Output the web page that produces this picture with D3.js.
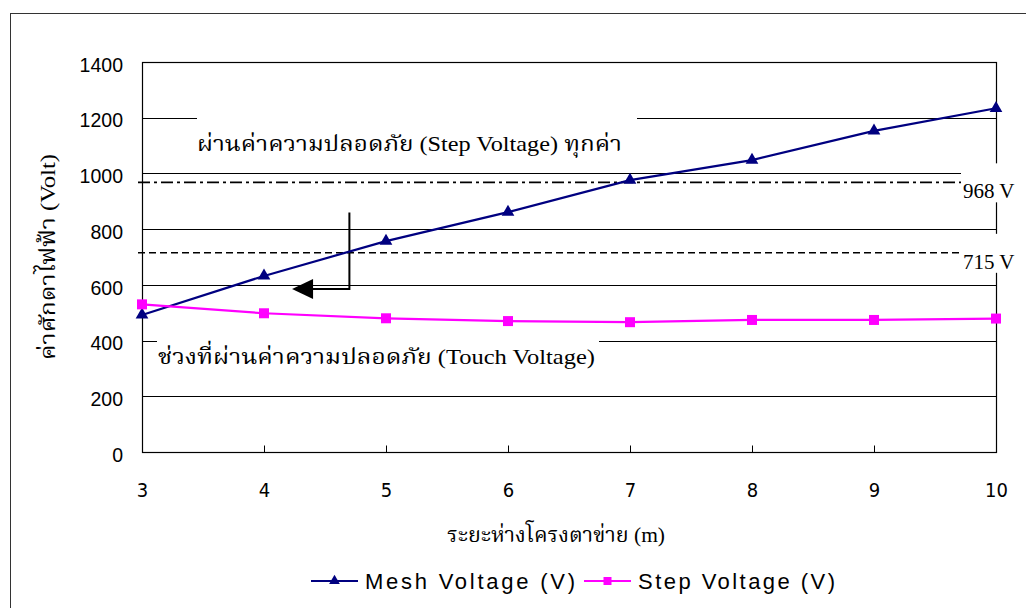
<!DOCTYPE html>
<html>
<head>
<meta charset="utf-8">
<script src="https://cdn.jsdelivr.net/npm/d3@7"></script>
<style>
  html, body { margin: 0; padding: 0; background: #fff; }
  svg { display: block; }
  .thai { font-family: "Liberation Serif", "Noto Serif Thai", "Noto Sans Thai", "Loma", "Garuda", serif; }
</style>
</head>
<body>
<svg id="chart" width="1026" height="608"></svg>
<script>
// Grid spacing (m) on the x axis
const spacing = [3, 4, 5, 6, 7, 8, 9, 10];
// Mesh voltage (V) for each spacing
const meshVoltage = [492, 632, 757, 861, 976, 1048, 1153, 1234];
// Step voltage (V) for each spacing
const stepVoltage = [530, 498, 480, 470, 466, 474, 474, 479];
// Permissible limits (V): step limit and touch limit
const limitValues = [968, 715];
const limitLabels = ["968 V", "715 V"];
// Axis ticks
const yTicks = [0, 200, 400, 600, 800, 1000, 1200, 1400];
const xTicks = [3, 4, 5, 6, 7, 8, 9, 10];

const svg = d3.select("#chart");
const plot = { left: 142, right: 996, top: 62, bottom: 452 };

const x = d3.scaleLinear().domain([3, 10]).range([plot.left, plot.right]);
const y = d3.scaleLinear().domain([0, 1400]).range([plot.bottom, plot.top]);

// outer frame of the chart area
svg.append("rect")
  .attr("x", 10.5).attr("y", 13.5).attr("width", 1030).attr("height", 620)
  .attr("fill", "none").attr("stroke", "#333").attr("stroke-width", 1);

// horizontal gridlines
svg.append("g")
  .selectAll("line")
  .data(yTicks.filter(d => d > 0 && d < 1400))
  .join("line")
  .attr("x1", plot.left).attr("x2", plot.right)
  .attr("y1", d => Math.round(y(d)) + 0.5).attr("y2", d => Math.round(y(d)) + 0.5)
  .attr("stroke", "#000").attr("stroke-width", 1);

// plot frame
svg.append("rect")
  .attr("x", plot.left + 0.5).attr("y", plot.top + 0.5)
  .attr("width", plot.right - plot.left).attr("height", plot.bottom - plot.top)
  .attr("fill", "none").attr("stroke", "#000").attr("stroke-width", 1.2);

// x axis: inward ticks, condensed labels below
const xAxis = d3.axisBottom(x).tickValues(xTicks).tickSize(-7).tickPadding(30).tickFormat(d3.format("d"));
const gx = svg.append("g").attr("transform", `translate(0,${plot.bottom + 0.5})`).call(xAxis);
gx.select(".domain").remove();
gx.selectAll("line").attr("stroke", "#000");
gx.selectAll("text")
  .attr("font-family", "'Liberation Sans Narrow', 'DejaVu Sans Condensed', 'Liberation Sans', sans-serif")
  .attr("font-size", 20).attr("fill", "#000");

// y axis labels
const yAxis = d3.axisLeft(y).tickValues(yTicks).tickSize(0).tickPadding(19).tickFormat(d3.format("d"));
const gy = svg.append("g").attr("transform", `translate(${plot.left},3)`).call(yAxis);
gy.select(".domain").remove();
gy.selectAll("text")
  .attr("font-family", "'Liberation Sans', Arial, sans-serif")
  .attr("font-size", 19.5).attr("fill", "#000");

// label boxes sitting on top of the gridlines
function whiteBox(x0, y0, w, h) {
  svg.append("rect").attr("x", x0).attr("y", y0).attr("width", w).attr("height", h).attr("fill", "#fff");
}
whiteBox(197, y(1200) - 4, 440, 52);
whiteBox(157, y(400) - 4, 442, 34);

// permissible limit lines
const limitDash = ["12,4,3,4", "7,4"];
limitValues.forEach((v, i) => {
  svg.append("line")
    .attr("x1", plot.left - 4).attr("x2", 962)
    .attr("y1", y(v)).attr("y2", y(v))
    .attr("stroke", "#000").attr("stroke-width", 1.6)
    .attr("stroke-dasharray", limitDash[i]);
  whiteBox(961, y(v) - 19, 70, 39);
  svg.append("text")
    .attr("x", 963).attr("y", y(v) + 16)
    .attr("font-family", "'Liberation Serif', 'Times New Roman', serif")
    .attr("font-size", 21).attr("fill", "#000")
    .text(limitLabels[i]);
});

// Thai notes (Latin characters fall to the serif face first)
function note(xp, yp, str, width, anchor) {
  return svg.append("text").attr("class", "thai")
    .attr("x", xp).attr("y", yp)
    .attr("font-size", 22).attr("fill", "#000")
    .attr("text-anchor", anchor || "start")
    .attr("textLength", width).attr("lengthAdjust", "spacingAndGlyphs")
    .text(str);
}
note(197, y(1200) + 33, "ผ่านค่าความปลอดภัย (Step Voltage) ทุกค่า", 425);
note(158, y(400) + 23, "ช่วงที่ผ่านค่าความปลอดภัย (Touch Voltage)", 437);

// bracket arrow pointing to the crossing region
const arrowX = 4.7, arrowTop = 860, arrowBottom = 585, arrowTip = 4.23;
svg.append("path")
  .attr("d", `M${x(arrowX)},${y(arrowTop)} V${y(arrowBottom)} H${x(arrowTip) + 18}`)
  .attr("fill", "none").attr("stroke", "#000").attr("stroke-width", 2);
svg.append("path")
  .attr("d", `M${x(arrowTip)},${y(arrowBottom)} l21,-10 v20 z`)
  .attr("fill", "#000");

// series
const series = [
  { name: "Mesh Voltage (V)", values: meshVoltage, color: "#000080", marker: d3.symbolTriangle },
  { name: "Step Voltage (V)", values: stepVoltage, color: "#ff00ff", marker: d3.symbolSquare }
];
const line = d3.line().x((d, i) => x(spacing[i])).y(d => y(d));

series.forEach(s => {
  svg.append("path")
    .datum(s.values)
    .attr("d", line)
    .attr("fill", "none").attr("stroke", s.color).attr("stroke-width", 2.2);
  svg.append("g").selectAll("path")
    .data(s.values)
    .join("path")
    .attr("transform", (d, i) => `translate(${x(spacing[i])},${y(d)})`)
    .attr("d", d3.symbol().type(s.marker).size(s.marker === d3.symbolSquare ? 100 : 70))
    .attr("fill", s.color);
});

// axis titles
svg.append("text").attr("class", "thai")
  .attr("transform", `translate(55,${(plot.top + plot.bottom) / 2}) rotate(-90)`)
  .attr("text-anchor", "middle")
  .attr("font-size", 22).attr("fill", "#000")
  .attr("textLength", 206).attr("lengthAdjust", "spacingAndGlyphs")
  .text("ค่าศักดาไฟฟ้า (Volt)");

note(556, 542, "ระยะห่างโครงตาข่าย (m)", 218, "middle");

// legend
const legend = svg.append("g").attr("transform", "translate(311,581)");
const legendX = [0, 273];
const legendTextW = [210, 197];
series.forEach((s, i) => {
  const g = legend.append("g").attr("transform", `translate(${legendX[i]},0)`);
  g.append("line").attr("x1", 0).attr("x2", 47).attr("y1", 0).attr("y2", 0)
    .attr("stroke", s.color).attr("stroke-width", 2.2);
  g.append("path").attr("transform", "translate(23.5,0)")
    .attr("d", d3.symbol().type(s.marker).size(s.marker === d3.symbolSquare ? 64 : 50))
    .attr("fill", s.color);
  g.append("text").attr("x", 54).attr("y", 8)
    .attr("font-family", "'Liberation Sans', Arial, sans-serif")
    .attr("font-size", 22).attr("fill", "#000")
    .attr("textLength", legendTextW[i]).attr("lengthAdjust", "spacing")
    .text(s.name);
});
</script>
</body>
</html>
